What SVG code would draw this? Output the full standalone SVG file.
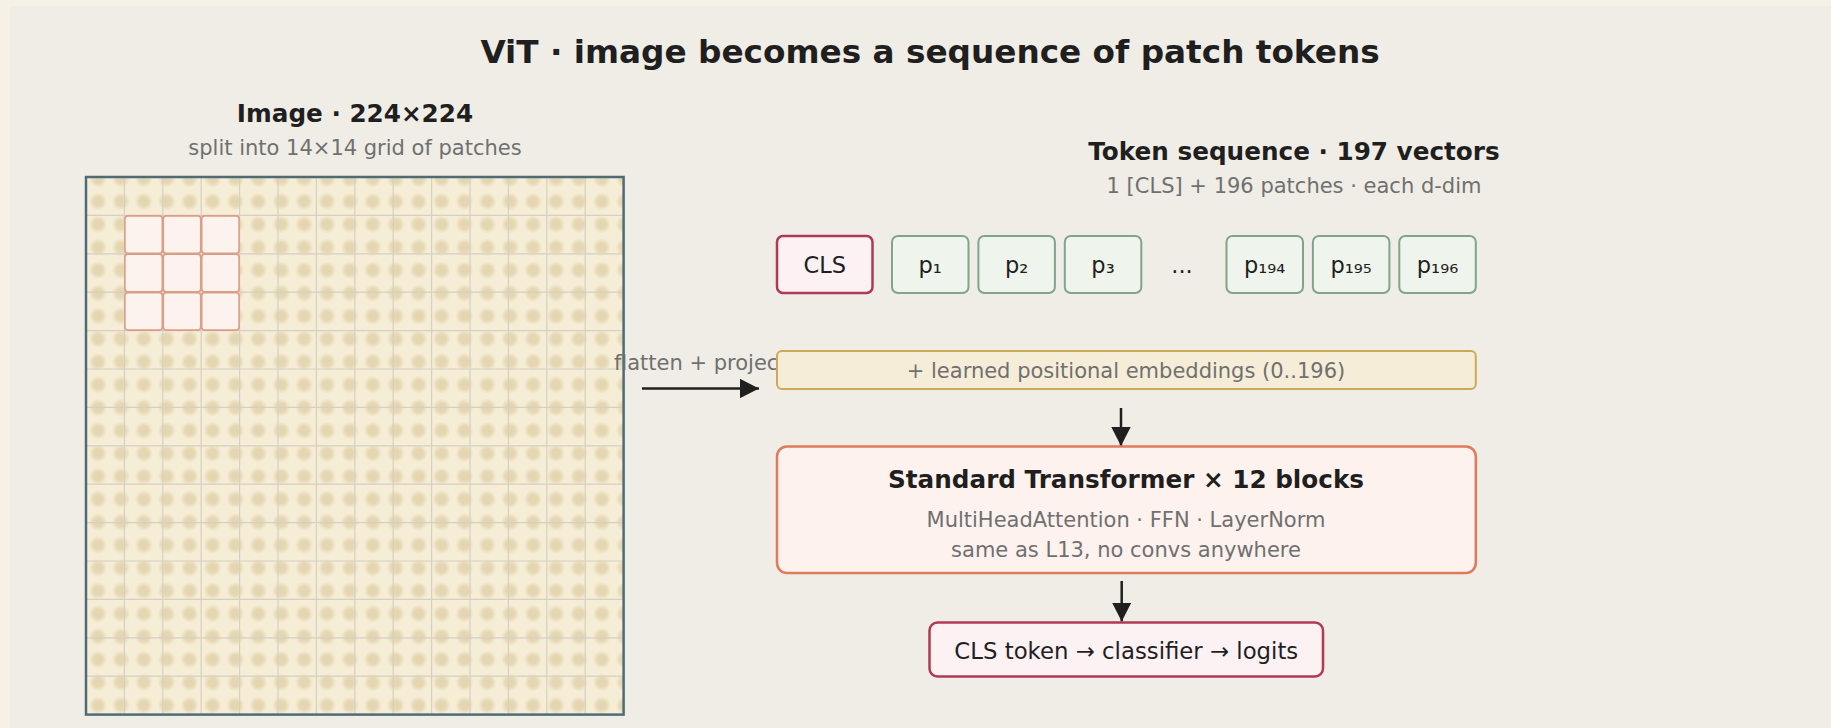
<svg xmlns="http://www.w3.org/2000/svg" width="1831" height="728" viewBox="0 0 1831 728">
  <style>
    text { font-family: "DejaVu Sans", "Liberation Sans", sans-serif; }
    .title { font-size: 32.7px; font-weight: bold; fill: #1f1f1f; }
    .head { font-size: 24.7px; font-weight: bold; fill: #1f1f1f; }
    .sub { font-size: 21px; fill: #707070; }
    .lbl { font-size: 22.5px; fill: #1f1f1f; }
    .tok { fill: #eff4ec; stroke: #7fa58a; stroke-width: 2; }
    .cls { fill: #fcf1f3; stroke: #b03a55; stroke-width: 2.5; }
    .hi { fill: #fdf3ee; stroke: #dc9d87; stroke-width: 1.6; }
    .conn { stroke: #1f1f1f; stroke-width: 2.5; fill: none; }
  </style>
  <defs>
    <radialGradient id="dotGrad">
      <stop offset="0" stop-color="#e4d5b0"/>
      <stop offset="0.5" stop-color="#e5d7b2"/>
      <stop offset="1" stop-color="#e5d7b2" stop-opacity="0"/>
    </radialGradient>
    <pattern id="texture" patternUnits="userSpaceOnUse" x="86.55" y="190.05" width="22.9" height="22.9">
      <rect width="22.9" height="22.9" fill="#f6edd6"/>
      <circle cx="11.45" cy="11.45" r="9" fill="url(#dotGrad)"/>
    </pattern>
    <marker id="head" markerUnits="userSpaceOnUse" viewBox="0 0 19 19.4" refX="19" refY="9.7" markerWidth="19" markerHeight="19.4" orient="auto">
      <path d="M0,0 L19,9.7 L0,19.4 Z" fill="#1f1f1f"/>
    </marker>
  </defs>

  <!-- page and panel -->
  <rect width="1831" height="728" fill="#f5f1e6"/>
  <rect x="10" y="6" width="1821" height="722" fill="#efede5"/>

  <text class="title" x="930" y="63" text-anchor="middle">ViT · image becomes a sequence of patch tokens</text>

  <!-- input image split into patches -->
  <g id="image">
    <text class="head" x="355" y="122" text-anchor="middle">Image · 224×224</text>
    <text class="sub" x="355" y="155" text-anchor="middle">split into 14×14 grid of patches</text>
    <rect x="86" y="177" width="537.6" height="537.6" fill="url(#texture)"/>
    <path stroke="#d5d0c3" stroke-width="1.2" fill="none"
      d="M124.4,177V714.6M162.8,177V714.6M201.2,177V714.6M239.6,177V714.6M278,177V714.6M316.4,177V714.6M354.8,177V714.6M393.2,177V714.6M431.6,177V714.6M470,177V714.6M508.4,177V714.6M546.8,177V714.6M585.2,177V714.6
         M86,215.4H623.6M86,253.8H623.6M86,292.2H623.6M86,330.6H623.6M86,369H623.6M86,407.4H623.6M86,445.8H623.6M86,484.2H623.6M86,522.6H623.6M86,561H623.6M86,599.4H623.6M86,637.8H623.6M86,676.2H623.6"/>
    <g id="patch-highlight">
      <rect class="hi" x="124.9" y="215.9" width="37.4" height="37.4" rx="3"/>
      <rect class="hi" x="163.3" y="215.9" width="37.4" height="37.4" rx="3"/>
      <rect class="hi" x="201.7" y="215.9" width="37.4" height="37.4" rx="3"/>
      <rect class="hi" x="124.9" y="254.3" width="37.4" height="37.4" rx="3"/>
      <rect class="hi" x="163.3" y="254.3" width="37.4" height="37.4" rx="3"/>
      <rect class="hi" x="201.7" y="254.3" width="37.4" height="37.4" rx="3"/>
      <rect class="hi" x="124.9" y="292.7" width="37.4" height="37.4" rx="3"/>
      <rect class="hi" x="163.3" y="292.7" width="37.4" height="37.4" rx="3"/>
      <rect class="hi" x="201.7" y="292.7" width="37.4" height="37.4" rx="3"/>
    </g>
    <rect x="86" y="177" width="537.6" height="537.6" fill="none" stroke="#4f6b78" stroke-width="2.5"/>
  </g>

  <!-- connectors -->
  <g id="connectors">
    <text class="sub" x="614" y="370">flatten + project</text>
    <path class="conn" d="M642,388.5H759" marker-end="url(#head)"/>
    <path class="conn" d="M1121,408V446" marker-end="url(#head)"/>
    <path class="conn" d="M1121.7,581V621.5" marker-end="url(#head)"/>
  </g>

  <!-- token sequence -->
  <g id="sequence-label">
    <text class="head" x="1294" y="159.5" text-anchor="middle">Token sequence · 197 vectors</text>
    <text class="sub" x="1294" y="193.3" text-anchor="middle">1 [CLS] + 196 patches · each d-dim</text>
  </g>

  <g id="tok-cls">
    <rect class="cls" x="777" y="236" width="95.5" height="57" rx="6"/>
    <text class="lbl" x="824.7" y="272.5" text-anchor="middle">CLS</text>
  </g>
  <g id="tok-p1">
    <rect class="tok" x="892" y="236" width="76.5" height="57" rx="6"/>
    <text class="lbl" x="930.2" y="272.5" text-anchor="middle">p₁</text>
  </g>
  <g id="tok-p2">
    <rect class="tok" x="978.4" y="236" width="76.5" height="57" rx="6"/>
    <text class="lbl" x="1016.6" y="272.5" text-anchor="middle">p₂</text>
  </g>
  <g id="tok-p3">
    <rect class="tok" x="1064.8" y="236" width="76.5" height="57" rx="6"/>
    <text class="lbl" x="1103" y="272.5" text-anchor="middle">p₃</text>
  </g>
  <g id="tok-ellipsis">
    <text class="lbl" x="1182" y="272.5" text-anchor="middle">...</text>
  </g>
  <g id="tok-p194">
    <rect class="tok" x="1226.5" y="236" width="76.5" height="57" rx="6"/>
    <text class="lbl" x="1264.7" y="272.5" text-anchor="middle">p₁₉₄</text>
  </g>
  <g id="tok-p195">
    <rect class="tok" x="1312.9" y="236" width="76.5" height="57" rx="6"/>
    <text class="lbl" x="1351.1" y="272.5" text-anchor="middle">p₁₉₅</text>
  </g>
  <g id="tok-p196">
    <rect class="tok" x="1399.3" y="236" width="76.5" height="57" rx="6"/>
    <text class="lbl" x="1437.5" y="272.5" text-anchor="middle">p₁₉₆</text>
  </g>

  <g id="pos-embed">
    <rect x="777" y="351" width="698.8" height="38" rx="5" fill="#f5edd7" stroke="#cda957" stroke-width="2"/>
    <text class="sub" x="1126" y="378" text-anchor="middle">+ learned positional embeddings (0..196)</text>
  </g>

  <g id="transformer">
    <rect x="777" y="446.5" width="698.8" height="126.5" rx="10" fill="#fdf2ee" stroke="#df7b5b" stroke-width="2.5"/>
    <text class="head" x="1126" y="488" text-anchor="middle">Standard Transformer × 12 blocks</text>
    <text class="sub" x="1126" y="526.7" text-anchor="middle">MultiHeadAttention · FFN · LayerNorm</text>
    <text class="sub" x="1126" y="557" text-anchor="middle">same as L13, no convs anywhere</text>
  </g>

  <g id="classifier">
    <rect x="929.5" y="622.5" width="393.5" height="54" rx="8" fill="#fcf1f3" stroke="#b03a55" stroke-width="2.5"/>
    <text class="lbl" x="1126.3" y="659.3" text-anchor="middle" style="font-size:22.8px">CLS token → classifier → logits</text>
  </g>
</svg>
